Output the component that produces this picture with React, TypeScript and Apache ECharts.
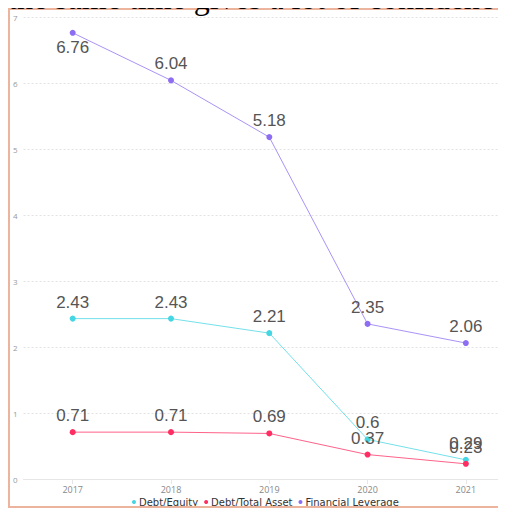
import React, { useEffect, useRef } from "react";
import * as echarts from "echarts";

const years = ["2017", "2018", "2019", "2020", "2021"];
const debtEquity = [2.43, 2.43, 2.21, 0.6, 0.29];
const debtTotalAsset = [0.71, 0.71, 0.69, 0.37, 0.23];
const financialLeverage = [6.76, 6.04, 5.18, 2.35, 2.06];
const seriesNames = ["Debt/Equity", "Debt/Total Asset", "Financial Leverage"];
const colors = ["#45d6e3", "#ff2d62", "#8d6df1"];

export default function App() {
  const ref = useRef<HTMLDivElement>(null);
  useEffect(() => {
    const chart = echarts.init(ref.current!, undefined, { renderer: "svg" });
    const labelStyle = {
      show: true,
      position: "top" as const,
      distance: 5,
      fontSize: 17,
      color: "#555",
      fontFamily: "Liberation Sans, Arial, sans-serif",
    };
    const mk = (name: string, data: number[], color: string, firstBottom = false) => ({
      name,
      type: "line",
      data: data.map((v, i) =>
        firstBottom && i === 0 ? { value: v, label: { position: "bottom", distance: 3 } } : v
      ),
      symbol: "circle",
      symbolSize: 6,
      itemStyle: { color },
      lineStyle: { color, width: 1, opacity: 0.75 },
      label: labelStyle,
    });
    chart.setOption({
      animation: false,
      color: colors,
      grid: { left: 13, right: 13, top: 7, bottom: 27, containLabel: false },
      legend: {
        bottom: -1,
        left: 122,
        padding: 0,
        itemWidth: 4,
        itemHeight: 4,
        itemGap: 6,
        icon: "circle",
        textStyle: { fontSize: 10, color: "#333", fontFamily: "DejaVu Sans, sans-serif", padding: [0, 0, 0, -2] },
        data: seriesNames,
      },
      xAxis: {
        type: "category",
        data: years,
        axisLine: { lineStyle: { color: "#e6e6e6" } },
        axisTick: { show: true, alignWithLabel: true, lineStyle: { color: "#e6e6e6" } },
        axisLabel: { fontSize: 9, color: "#888", margin: 6, fontFamily: "Open Sans, sans-serif" },
      },
      yAxis: {
        type: "value",
        min: 0,
        max: 7,
        interval: 1,
        axisLine: { show: false },
        axisTick: { show: false },
        axisLabel: { fontSize: 8, color: "#999", margin: 6, fontFamily: "Open Sans, sans-serif" },
        splitLine: { lineStyle: { color: "#e2e2e2", type: [2, 2] } },
      },
      series: [
        mk(seriesNames[0], debtEquity, colors[0]),
        mk(seriesNames[1], debtTotalAsset, colors[1]),
        mk(seriesNames[2], financialLeverage, colors[2], true),
      ],
    });
    return () => chart.dispose();
  }, []);
  return (
    <div style={{ position: "relative" }}>
      <div
        style={{
          position: "relative",
          border: "2px solid #ecb49c",
          width: 518,
          height: 496,
          boxSizing: "content-box",
        }}
      >
        <div ref={ref} style={{ width: 518, height: 496 }} />
      </div>
      <div
        style={{
          position: "absolute",
          top: -26,
          left: 0,
          zIndex: 2,
          fontFamily: "Liberation Serif, serif",
          fontSize: 32,
          lineHeight: "32px",
          whiteSpace: "nowrap",
          color: "#000",
          pointerEvents: "none",
        }}
      >
        the same time gives a lot of confidence
      </div>
    </div>
  );
}
